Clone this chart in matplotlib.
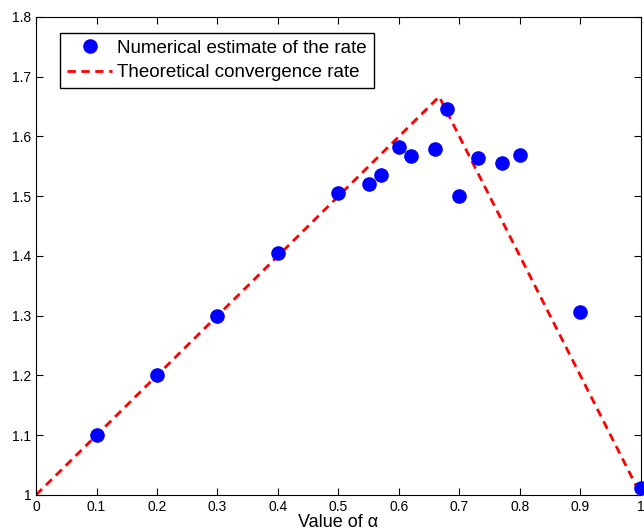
import numpy as np
import matplotlib.pyplot as plt

plt.rcParams['font.family'] = ['Liberation Sans', 'DejaVu Sans']

alpha = [0.1, 0.2, 0.3, 0.4, 0.5, 0.55, 0.57, 0.6, 0.62, 0.66, 0.68,
         0.7, 0.73, 0.77, 0.8, 0.9, 1.0]
rate = [1.1, 1.2, 1.3, 1.405, 1.505, 1.52, 1.536, 1.582, 1.567, 1.579, 1.646,
        1.5, 1.564, 1.556, 1.569, 1.306, 1.012]

theory_x = [0, 2/3, 1]
theory_y = [1, 5/3, 1]

fig = plt.figure(figsize=(6.44, 5.31), dpi=100)
ax = fig.add_axes([0.056, 0.068, 0.939, 0.9])

ax.plot(alpha, rate, 'o', color='blue', ms=9.5, clip_on=False, zorder=3,
        label='Numerical estimate of the rate')
ax.plot(theory_x, theory_y, '--', color='red', lw=2, dashes=(3, 2),
        label='Theoretical convergence rate')

ax.set_xlim(0, 1)
ax.set_ylim(1, 1.8)
ax.set_xticks(np.arange(0, 1.01, 0.1))
ax.set_xticklabels(['0', '0.1', '0.2', '0.3', '0.4', '0.5', '0.6', '0.7', '0.8', '0.9', '1'])
ax.set_yticks(np.arange(1, 1.81, 0.1))
ax.set_yticklabels(['1', '1.1', '1.2', '1.3', '1.4', '1.5', '1.6', '1.7', '1.8'])
ax.tick_params(direction='in', top=True, right=True, labelsize=10, length=5)
ax.set_xlabel('Value of α', fontsize=13, labelpad=0)

ax.legend(loc='upper left', bbox_to_anchor=(0.04, 0.967), fontsize=13.5,
          fancybox=False, edgecolor='black', framealpha=1, borderpad=0.38,
          handlelength=2.4, handletextpad=0.25, labelspacing=0.38,
          borderaxespad=0)

fig.savefig('out.png')
